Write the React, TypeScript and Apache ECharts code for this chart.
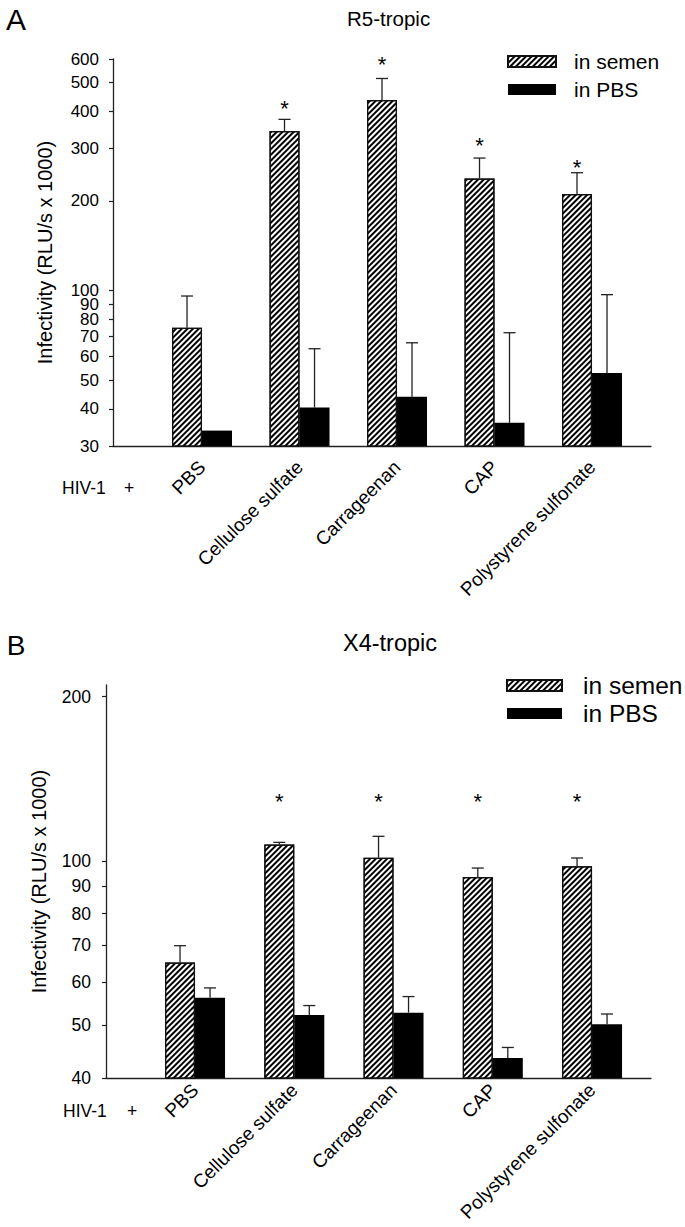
import React, { useEffect, useRef } from "react";
import * as echarts from "echarts";

const FONT = "'Liberation Sans', Arial, sans-serif";

const categories = ["PBS", "Cellulose sulfate", "Carrageenan", "CAP", "Polystyrene sulfonate"];
const catPos = [1, 2, 3, 4, 5];
const seriesNames = ["in semen", "in PBS"];

// Panel A (R5-tropic)
const semenA = [74.9, 343.6, 436.8, 238, 210.9];
const semenErrA = [95.8, 376, 516, 278.7, 248.8];
const pbsA = [33.8, 40.4, 43.9, 35.9, 52.8];
const pbsErrA = [null, 63.7, 66.7, 72.1, 96.8];
const starA = [null, 424, 599, 320, 270];
const yTicksA = [30, 40, 50, 60, 70, 80, 90, 100, 200, 300, 400, 500, 600];

// Panel B (X4-tropic)
const semenB = [65.1, 107.1, 101.3, 93.4, 97.7];
const semenErrB = [69.9, 108.1, 110.9, 97.0, 101.2];
const pbsB = [56.1, 52.2, 52.7, 43.5, 50.2];
const pbsErrB = [58.5, 54.3, 56.4, 45.5, 52.4];
const starB = [null, 131, 131, 131, 131];
const yTicksB = [40, 50, 60, 70, 80, 90, 100, 200];

const BAR_W = 30;
const AXIS_COLOR = "#222";

const hatch = {
  symbol: "rect",
  symbolSize: 1,
  dashArrayX: [1, 0],
  dashArrayY: [1.2, 1.6],
  rotation: -Math.PI / 4,
  color: "#000",
  backgroundColor: "#fff",
};

function errData(vals: number[], errs: (number | null)[], stars: (number | null)[] | null) {
  return catPos.map((x, i) => [x, vals[i], errs[i] == null ? NaN : errs[i], stars && stars[i] != null ? stars[i] : NaN]);
}

function makeErrSeries(idx: number, vals: number[], errs: (number | null)[], stars: (number | null)[] | null, side: number) {
  return {
    type: "custom",
    xAxisIndex: idx,
    yAxisIndex: idx,
    z: 5,
    clip: false,
    silent: true,
    data: errData(vals, errs, stars),
    renderItem: (params: any, api: any) => {
      const x = api.value(0);
      const v = api.value(1);
      const e = api.value(2);
      const s = api.value(3);
      const children: any[] = [];
      const p0 = api.coord([x, v]);
      const px = p0[0] + (side * BAR_W) / 2;
      if (!isNaN(e)) {
        const p1 = api.coord([x, e]);
        children.push({
          type: "line",
          shape: { x1: px, y1: p0[1], x2: px, y2: p1[1] },
          style: { stroke: AXIS_COLOR, lineWidth: 1.3 },
        });
        children.push({
          type: "line",
          shape: { x1: px - 6, y1: p1[1], x2: px + 6, y2: p1[1] },
          style: { stroke: AXIS_COLOR, lineWidth: 1.3 },
        });
      }
      if (!isNaN(s)) {
        const ps = api.coord([x, s]);
        children.push({
          type: "text",
          x: px,
          y: ps[1] + 5,
          style: { text: "*", fontSize: 22, fontFamily: FONT, fill: "#000", align: "center", verticalAlign: "middle" },
        });
      }
      return { type: "group", children };
    },
  };
}

function barSeries(idx: number, name: string, vals: number[], semen: boolean) {
  return {
    type: "bar",
    name,
    xAxisIndex: idx,
    yAxisIndex: idx,
    barWidth: BAR_W,
    barGap: "0%",
    data: catPos.map((x, i) => [x, vals[i]]),
    itemStyle: semen
      ? { color: "#fff", borderColor: "#111", borderWidth: 1.2, decal: hatch }
      : { color: "#000", borderColor: "#000", borderWidth: 0 },
  };
}

function yAxis(idx: number, min: number, max: number, ticks: number[], nameGap: number, margin: number, fontSize: number) {
  return {
    type: "log",
    gridIndex: idx,
    min,
    max,
    logBase: 10,
    name: "Infectivity (RLU/s x 1000)",
    nameLocation: "middle",
    nameGap,
    nameRotate: 90,
    nameTextStyle: { fontSize: 20, fontFamily: FONT, color: "#000" },
    axisLine: { show: true, lineStyle: { color: AXIS_COLOR, width: 1.3 } },
    axisTick: { show: true, length: 4, customValues: ticks, lineStyle: { color: AXIS_COLOR, width: 1.2 } },
    axisLabel: { customValues: ticks, fontSize, lineHeight: 13, fontFamily: FONT, color: "#000", margin },
    splitLine: { show: false },
    minorTick: { show: false },
  };
}

function xAxis(idx: number, min: number, max: number, margin: number) {
  return {
    type: "value",
    gridIndex: idx,
    min,
    max,
    axisLine: { show: true, onZero: false, lineStyle: { color: AXIS_COLOR, width: 1.3 } },
    axisTick: { show: false, customValues: catPos },
    axisLabel: {
      customValues: catPos,
      rotate: 45,
      fontSize: 19,
      fontFamily: FONT,
      color: "#000",
      margin,
      formatter: (v: number) => categories[Math.round(v) - 1] || "",
    },
    splitLine: { show: false },
  };
}

export default function App() {
  const ref = useRef<HTMLDivElement>(null);
  useEffect(() => {
    if (!ref.current) return;
    const chart = echarts.init(ref.current, null, { renderer: "svg" });
    const option: any = {
      animation: false,
      backgroundColor: "#fff",
      textStyle: { fontFamily: FONT, color: "#000" },
      title: [
        { text: "R5-tropic", left: 347, top: 8, padding: 0, textStyle: { fontSize: 20.5, fontWeight: "normal", fontFamily: FONT, color: "#000" } },
        { text: "X4-tropic", left: 343, top: 631, padding: 0, textStyle: { fontSize: 23.5, fontWeight: "normal", fontFamily: FONT, color: "#000" } },
      ],
      legend: [
        {
          data: seriesNames,
          orient: "vertical",
          left: 507,
          top: 51,
          icon: "rect",
          itemWidth: 48,
          itemHeight: 11,
          itemGap: 7,
          padding: 0,
          selectedMode: false,
          textStyle: { fontSize: 21, fontFamily: FONT, color: "#000", padding: [0, 0, 0, 13], lineHeight: 18 },
        },
        {
          data: seriesNames,
          orient: "vertical",
          left: 506,
          top: 673,
          icon: "rect",
          itemWidth: 55,
          itemHeight: 11,
          itemGap: 3,
          padding: 0,
          selectedMode: false,
          textStyle: { fontSize: 24.5, fontFamily: FONT, color: "#000", padding: [0, 0, 0, 16], lineHeight: 22 },
        },
      ],
      grid: [
        { left: 113, top: 59, width: 538, height: 387 },
        { left: 106, top: 685, width: 545, height: 393 },
      ],
      xAxis: [xAxis(0, 0.087, 5.605, 18), xAxis(1, 0.103, 5.594, 9)],
      yAxis: [yAxis(0, 30, 600, yTicksA, 58, 14, 17), yAxis(1, 40, 210, yTicksB, 57, 15, 17.5)],
      graphic: [
        { type: "text", x: 16, y: 19, style: { text: "A", fontSize: 30, fontFamily: FONT, fill: "#000", align: "center", verticalAlign: "middle" } },
        { type: "text", x: 16, y: 645, style: { text: "B", fontSize: 28, fontFamily: FONT, fill: "#000", align: "center", verticalAlign: "middle" } },
        { type: "text", x: 62, y: 488, style: { text: "HIV-1", fontSize: 17.5, fontFamily: FONT, fill: "#000", align: "left", verticalAlign: "middle" } },
        { type: "text", x: 129, y: 488, style: { text: "+", fontSize: 17.5, fontFamily: FONT, fill: "#000", align: "center", verticalAlign: "middle" } },
        { type: "text", x: 63, y: 1111, style: { text: "HIV-1", fontSize: 17.5, fontFamily: FONT, fill: "#000", align: "left", verticalAlign: "middle" } },
        { type: "text", x: 132, y: 1111, style: { text: "+", fontSize: 17.5, fontFamily: FONT, fill: "#000", align: "center", verticalAlign: "middle" } },
      ],
      series: [
        barSeries(0, seriesNames[0], semenA, true),
        barSeries(0, seriesNames[1], pbsA, false),
        makeErrSeries(0, semenA, semenErrA, starA, -1),
        makeErrSeries(0, pbsA, pbsErrA, null, 1),
        barSeries(1, seriesNames[0], semenB, true),
        barSeries(1, seriesNames[1], pbsB, false),
        makeErrSeries(1, semenB, semenErrB, starB, -1),
        makeErrSeries(1, pbsB, pbsErrB, null, 1),
      ],
    };
    chart.setOption(option);
    return () => chart.dispose();
  }, []);
  return <div ref={ref} style={{ position: "absolute", left: 0, top: 0, width: 685, height: 1227 }} />;
}
